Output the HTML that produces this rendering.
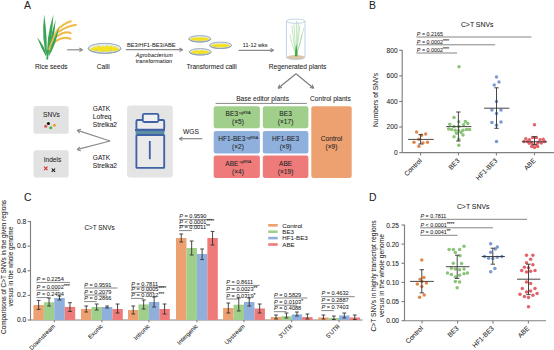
<!DOCTYPE html>
<html><head><meta charset="utf-8"><style>
html,body{margin:0;padding:0;background:#fff;}
svg{display:block;}
text{font-family:"Liberation Sans", sans-serif;stroke:#333;stroke-width:0.06px;}
</style></head><body>
<svg width="554" height="350" viewBox="0 0 554 350">
<rect width="554" height="350" fill="#fff"/>
<text x="24.0" y="9.3" font-size="10.4" text-anchor="start" fill="#222" >A</text>
<path d="M46.60,59.20 Q46.50,47.46 37.00,37.20 Q41.73,49.54 47.50,59.20 Z" fill="#3aa053"/>
<path d="M46.40,59.20 Q47.81,39.01 44.20,14.60 Q41.02,39.35 47.30,59.20 Z" fill="#3aa556"/>
<path d="M46.80,59.20 Q52.34,39.51 53.40,14.60 Q45.62,38.52 47.70,59.20 Z" fill="#3aa556"/>
<path d="M47.00,59.20 Q54.39,42.24 55.60,19.80 Q48.92,41.04 47.90,59.20 Z" fill="#36a052"/>
<g fill="none" stroke="#f0b844" stroke-width="1.45" stroke-linejoin="round" stroke-linecap="round">
<path d="M48.20,53.00 L48.98,51.92 L48.46,50.49 L49.67,49.60 L49.16,48.21 L50.36,47.39 L49.86,46.03 L51.07,45.27 L50.58,43.95 L51.78,43.26 L51.30,41.97 L52.50,41.35 L52.03,40.10 L53.22,39.54 L52.76,38.32 L53.95,37.84 L53.51,36.65 L54.69,36.24 L54.26,35.08 L55.44,34.74 L55.02,33.60 L56.19,33.35 L55.79,32.23 L56.94,32.05 L56.56,30.96 L57.70,30.87 L57.35,29.79 L58.47,29.78 L58.50,29.00"/>
<path d="M57.50,29.50 L58.45,29.24 L58.51,27.99 L59.75,28.13 L59.85,26.89 L61.07,27.08 L61.20,25.85 L62.40,26.10 L62.56,24.89 L63.74,25.19 L63.94,23.99 L65.09,24.35 L65.33,23.17 L66.46,23.58 L66.74,22.41 L67.84,22.87 L68.16,21.73 L69.23,22.24 L69.60,21.12 L70.64,21.68 L71.20,21.00"/>
<path d="M58.50,32.00 L59.46,31.88 L59.68,30.66 L60.88,30.96 L61.12,29.75 L62.30,30.10 L62.58,28.91 L63.73,29.31 L64.04,28.13 L65.17,28.58 L65.52,27.42 L66.62,27.92 L67.01,26.78 L68.07,27.33 L68.50,26.21 L69.54,26.80 L70.01,25.70 L71.02,26.34 L71.53,25.27 L72.50,25.95 L73.06,24.89 L74.00,25.62 L74.59,24.59 L75.50,25.35 L76.20,24.80"/>
<path d="M57.00,36.50 L58.05,36.29 L58.33,35.01 L59.59,35.28 L59.90,34.06 L61.08,34.44 L61.43,33.27 L62.52,33.78 L62.93,32.67 L63.92,33.29 L64.40,32.24 L65.27,32.97 L65.83,31.98 L66.58,32.83 L67.23,31.91 L67.84,32.84 L68.59,32.02 L69.06,33.03 L69.91,32.32 L70.24,33.37 L71.00,33.20"/>
<path d="M54.00,42.50 L55.08,42.25 L55.38,40.94 L56.68,41.17 L57.01,39.91 L58.25,40.26 L58.64,39.06 L59.80,39.52 L60.26,38.38 L61.33,38.96 L61.86,37.87 L62.84,38.57 L63.45,37.54 L64.33,38.34 L65.03,37.39 L65.80,38.29 L66.60,37.42 L67.25,38.40 L68.14,37.63 L68.69,38.68 L69.67,38.02 L70.11,39.12 L71.00,39.00"/>
</g>
<path d="M47.20,59.20 Q55.78,46.19 59.20,27.60 Q50.54,44.20 48.10,59.20 Z" fill="#3aa556"/>
<path d="M45.6,50 L49.6,50 L47.4,59.4 Z" fill="#3aa556"/>
<text x="51.3" y="68.6" font-size="6.6" text-anchor="middle" fill="#222" >Rice seeds</text>
<line x1="67.2" y1="49.8" x2="82.5" y2="49.8" stroke="#8a8a8a" stroke-width="1.2"/>
<line x1="79.34" y1="48.07" x2="82.5" y2="49.8" stroke="#8a8a8a" stroke-width="1.2"/>
<line x1="79.34" y1="51.53" x2="82.5" y2="49.8" stroke="#8a8a8a" stroke-width="1.2"/>
<ellipse cx="104.6" cy="48.3" rx="16.4" ry="5.0" fill="#e6e9ec"/>
<ellipse cx="104.6" cy="49.20" rx="14.10" ry="2.50" fill="#f3e31e"/>
<ellipse cx="94.60" cy="47.70" rx="1.60" ry="1.28" fill="#f3e31e"/>
<ellipse cx="98.60" cy="46.90" rx="1.80" ry="1.44" fill="#f3e31e"/>
<ellipse cx="103.10" cy="47.50" rx="1.70" ry="1.36" fill="#f3e31e"/>
<ellipse cx="107.10" cy="46.50" rx="1.60" ry="1.28" fill="#f3e31e"/>
<ellipse cx="111.10" cy="47.30" rx="1.80" ry="1.44" fill="#f3e31e"/>
<ellipse cx="115.10" cy="47.80" rx="1.50" ry="1.20" fill="#f3e31e"/>
<ellipse cx="91.60" cy="48.70" rx="1.00" ry="0.80" fill="#f3e31e"/>
<ellipse cx="117.60" cy="48.90" rx="1.00" ry="0.80" fill="#f3e31e"/>
<ellipse cx="96.60" cy="50.50" rx="1.40" ry="0.70" fill="#c9c6a0"/>
<ellipse cx="103.60" cy="51.10" rx="1.40" ry="0.70" fill="#c9c6a0"/>
<ellipse cx="110.60" cy="50.70" rx="1.40" ry="0.70" fill="#c9c6a0"/>
<path d="M88.19999999999999,48.3 A16.4,5.0 0 0 0 121.0,48.3" fill="none" stroke="#8e9aa6" stroke-width="0.9"/>
<ellipse cx="104.6" cy="48.3" rx="16.4" ry="5.0" fill="none" stroke="#86a2bc" stroke-width="0.85"/>
<text x="103.2" y="68.6" font-size="6.6" text-anchor="middle" fill="#222" >Calli</text>
<line x1="126" y1="49.7" x2="182.6" y2="49.7" stroke="#8a8a8a" stroke-width="1.2"/>
<line x1="179.44" y1="47.97" x2="182.6" y2="49.7" stroke="#8a8a8a" stroke-width="1.2"/>
<line x1="179.44" y1="51.43" x2="182.6" y2="49.7" stroke="#8a8a8a" stroke-width="1.2"/>
<text x="151.3" y="46.7" font-size="5.7" text-anchor="middle" fill="#222" >BE3/HF1-BE3/ABE</text>
<text x="154.3" y="56.6" font-size="5.4" text-anchor="middle" fill="#222" font-style="italic" letter-spacing="0.15">Agrobacterium</text>
<text x="154.0" y="62.8" font-size="5.5" text-anchor="middle" fill="#222" letter-spacing="0.1">transformation</text>
<ellipse cx="199.8" cy="38.8" rx="11.0" ry="3.2" fill="#e6e9ec"/>
<ellipse cx="199.8" cy="39.38" rx="9.46" ry="1.60" fill="#f3e31e"/>
<ellipse cx="193.09" cy="38.42" rx="1.07" ry="0.82" fill="#f3e31e"/>
<ellipse cx="195.78" cy="37.90" rx="1.21" ry="0.92" fill="#f3e31e"/>
<ellipse cx="198.79" cy="38.29" rx="1.14" ry="0.87" fill="#f3e31e"/>
<ellipse cx="201.48" cy="37.65" rx="1.07" ry="0.82" fill="#f3e31e"/>
<ellipse cx="204.16" cy="38.16" rx="1.21" ry="0.92" fill="#f3e31e"/>
<ellipse cx="206.84" cy="38.48" rx="1.01" ry="0.77" fill="#f3e31e"/>
<ellipse cx="191.08" cy="39.06" rx="0.67" ry="0.51" fill="#f3e31e"/>
<ellipse cx="208.52" cy="39.18" rx="0.67" ry="0.51" fill="#f3e31e"/>
<ellipse cx="194.43" cy="40.21" rx="0.94" ry="0.45" fill="#c9c6a0"/>
<ellipse cx="199.13" cy="40.59" rx="0.94" ry="0.45" fill="#c9c6a0"/>
<ellipse cx="203.82" cy="40.34" rx="0.94" ry="0.45" fill="#c9c6a0"/>
<path d="M188.8,38.8 A11.0,3.2 0 0 0 210.8,38.8" fill="none" stroke="#8e9aa6" stroke-width="0.9"/>
<ellipse cx="199.8" cy="38.8" rx="11.0" ry="3.2" fill="none" stroke="#86a2bc" stroke-width="0.85"/>
<ellipse cx="220.6" cy="45.3" rx="11.0" ry="3.2" fill="#e6e9ec"/>
<ellipse cx="220.6" cy="45.88" rx="9.46" ry="1.60" fill="#f3e31e"/>
<ellipse cx="213.89" cy="44.92" rx="1.07" ry="0.82" fill="#f3e31e"/>
<ellipse cx="216.58" cy="44.40" rx="1.21" ry="0.92" fill="#f3e31e"/>
<ellipse cx="219.59" cy="44.79" rx="1.14" ry="0.87" fill="#f3e31e"/>
<ellipse cx="222.28" cy="44.15" rx="1.07" ry="0.82" fill="#f3e31e"/>
<ellipse cx="224.96" cy="44.66" rx="1.21" ry="0.92" fill="#f3e31e"/>
<ellipse cx="227.64" cy="44.98" rx="1.01" ry="0.77" fill="#f3e31e"/>
<ellipse cx="211.88" cy="45.56" rx="0.67" ry="0.51" fill="#f3e31e"/>
<ellipse cx="229.32" cy="45.68" rx="0.67" ry="0.51" fill="#f3e31e"/>
<ellipse cx="215.23" cy="46.71" rx="0.94" ry="0.45" fill="#c9c6a0"/>
<ellipse cx="219.93" cy="47.09" rx="0.94" ry="0.45" fill="#c9c6a0"/>
<ellipse cx="224.62" cy="46.84" rx="0.94" ry="0.45" fill="#c9c6a0"/>
<path d="M209.6,45.3 A11.0,3.2 0 0 0 231.6,45.3" fill="none" stroke="#8e9aa6" stroke-width="0.9"/>
<ellipse cx="220.6" cy="45.3" rx="11.0" ry="3.2" fill="none" stroke="#86a2bc" stroke-width="0.85"/>
<ellipse cx="200.2" cy="51.8" rx="11.0" ry="3.2" fill="#e6e9ec"/>
<ellipse cx="200.2" cy="52.38" rx="9.46" ry="1.60" fill="#f3e31e"/>
<ellipse cx="193.49" cy="51.42" rx="1.07" ry="0.82" fill="#f3e31e"/>
<ellipse cx="196.18" cy="50.90" rx="1.21" ry="0.92" fill="#f3e31e"/>
<ellipse cx="199.19" cy="51.29" rx="1.14" ry="0.87" fill="#f3e31e"/>
<ellipse cx="201.88" cy="50.65" rx="1.07" ry="0.82" fill="#f3e31e"/>
<ellipse cx="204.56" cy="51.16" rx="1.21" ry="0.92" fill="#f3e31e"/>
<ellipse cx="207.24" cy="51.48" rx="1.01" ry="0.77" fill="#f3e31e"/>
<ellipse cx="191.48" cy="52.06" rx="0.67" ry="0.51" fill="#f3e31e"/>
<ellipse cx="208.92" cy="52.18" rx="0.67" ry="0.51" fill="#f3e31e"/>
<ellipse cx="194.83" cy="53.21" rx="0.94" ry="0.45" fill="#c9c6a0"/>
<ellipse cx="199.53" cy="53.59" rx="0.94" ry="0.45" fill="#c9c6a0"/>
<ellipse cx="204.22" cy="53.34" rx="0.94" ry="0.45" fill="#c9c6a0"/>
<path d="M189.2,51.8 A11.0,3.2 0 0 0 211.2,51.8" fill="none" stroke="#8e9aa6" stroke-width="0.9"/>
<ellipse cx="200.2" cy="51.8" rx="11.0" ry="3.2" fill="none" stroke="#86a2bc" stroke-width="0.85"/>
<text x="211.6" y="68.6" font-size="6.6" text-anchor="middle" fill="#222" >Transformed calli</text>
<line x1="238.6" y1="50.3" x2="273.6" y2="50.3" stroke="#8a8a8a" stroke-width="1.2"/>
<line x1="270.44" y1="48.57" x2="273.6" y2="50.3" stroke="#8a8a8a" stroke-width="1.2"/>
<line x1="270.44" y1="52.03" x2="273.6" y2="50.3" stroke="#8a8a8a" stroke-width="1.2"/>
<text x="255.2" y="46.9" font-size="5.5" text-anchor="middle" fill="#222" >11-12 wks</text>
<ellipse cx="295.8" cy="57.2" rx="9.2" ry="2.2" fill="#dcc6a6"/>
<g fill="none" stroke="#8ccc88" stroke-width="0.5" stroke-linecap="round"><path d="M296.1,55.5 Q293,40 291.9,25.9"/><path d="M296.1,55.5 Q296.5,38 296.5,21.3"/><path d="M296.1,55.5 Q298.5,40 299.8,25.9"/><path d="M296.1,55.5 Q301,42 303.7,28.5"/><path d="M296.1,55.5 Q292,45 289.9,35"/><path d="M296.1,55.5 Q300,45 301.8,35"/><path d="M296.1,55.5 Q294.5,40 294,24"/><path d="M296.1,55.5 Q298,38 298.5,23"/></g>
<path d="M294.8,56.2 Q295.2,50 296.3,44 Q297.4,50 297.6,56.2 Z" fill="#3ea846"/>
<path d="M286.4,21.2 L286.4,57.2 A9.3,2.3 0 0 0 305.0,57.2 L305.0,21.2" fill="none" stroke="#a9c2dc" stroke-width="0.7"/>
<ellipse cx="295.7" cy="21.2" rx="9.3" ry="2.1" fill="none" stroke="#a9c2dc" stroke-width="0.7"/>
<text x="297.6" y="68.6" font-size="6.6" text-anchor="middle" fill="#222" >Regenerated plants</text>
<line x1="296" y1="73.8" x2="278.2" y2="88.2" stroke="#7a7a7a" stroke-width="1.1"/>
<line x1="281.94" y1="87.52" x2="278.2" y2="88.2" stroke="#7a7a7a" stroke-width="1.1"/>
<line x1="279.65" y1="84.69" x2="278.2" y2="88.2" stroke="#7a7a7a" stroke-width="1.1"/>
<line x1="296" y1="73.8" x2="313.6" y2="88.2" stroke="#7a7a7a" stroke-width="1.1"/>
<line x1="312.17" y1="84.68" x2="313.6" y2="88.2" stroke="#7a7a7a" stroke-width="1.1"/>
<line x1="309.87" y1="87.5" x2="313.6" y2="88.2" stroke="#7a7a7a" stroke-width="1.1"/>
<text x="262.6" y="101.0" font-size="6.6" text-anchor="middle" fill="#222" >Base editor plants</text>
<line x1="215.6" y1="103.4" x2="306.8" y2="103.4" stroke="#555" stroke-width="0.7"/>
<text x="330.4" y="101.0" font-size="6.6" text-anchor="middle" fill="#222" >Control plants</text>
<rect x="213.7" y="106.3" width="46.2" height="22.0" rx="2.2" fill="#9fcf8a"/>
<rect x="262.8" y="106.3" width="45.6" height="22.0" rx="2.2" fill="#9fcf8a"/>
<text x="238.2" y="116.10" font-size="6.6" text-anchor="middle" fill="#222">BE3<tspan font-size="3.7" dy="-2.1"> sgRNA</tspan></text>
<text x="238.0" y="124.3" font-size="6.6" text-anchor="middle" fill="#222" >(×5)</text>
<text x="285.6" y="116.1" font-size="6.6" text-anchor="middle" fill="#222" >BE3</text>
<text x="285.6" y="124.3" font-size="6.6" text-anchor="middle" fill="#222" >(×17)</text>
<rect x="213.7" y="130.9" width="46.2" height="22.5" rx="2.2" fill="#8fb0dc"/>
<rect x="262.8" y="130.9" width="45.6" height="22.5" rx="2.2" fill="#8fb0dc"/>
<text x="238.2" y="140.95" font-size="6.6" text-anchor="middle" fill="#222">HF1-BE3<tspan font-size="3.7" dy="-2.1"> sgRNA</tspan></text>
<text x="238.0" y="149.15" font-size="6.6" text-anchor="middle" fill="#222" >(×2)</text>
<text x="285.6" y="140.95" font-size="6.6" text-anchor="middle" fill="#222" >HF1-BE3</text>
<text x="285.6" y="149.15" font-size="6.6" text-anchor="middle" fill="#222" >(×9)</text>
<rect x="213.7" y="155.5" width="46.2" height="22.5" rx="2.2" fill="#ee7b7a"/>
<rect x="262.8" y="155.5" width="45.6" height="22.5" rx="2.2" fill="#ee7b7a"/>
<text x="238.2" y="165.55" font-size="6.6" text-anchor="middle" fill="#222">ABE<tspan font-size="3.7" dy="-2.1"> sgRNA</tspan></text>
<text x="238.0" y="173.75" font-size="6.6" text-anchor="middle" fill="#222" >(×4)</text>
<text x="285.6" y="165.55" font-size="6.6" text-anchor="middle" fill="#222" >ABE</text>
<text x="285.6" y="173.75" font-size="6.6" text-anchor="middle" fill="#222" >(×19)</text>
<rect x="311.3" y="106.2" width="40.4" height="71.8" rx="2.2" fill="#eda070"/>
<text x="331.5" y="140.6" font-size="6.6" text-anchor="middle" fill="#222" >Control</text>
<text x="331.5" y="148.8" font-size="6.6" text-anchor="middle" fill="#222" >(×9)</text>
<text x="191" y="133.9" font-size="6.6" text-anchor="middle" fill="#222" >WGS</text>
<line x1="202.4" y1="138.7" x2="179.3" y2="138.7" stroke="#8a8a8a" stroke-width="1.2"/>
<line x1="182.46" y1="140.43" x2="179.3" y2="138.7" stroke="#8a8a8a" stroke-width="1.2"/>
<line x1="182.46" y1="136.97" x2="179.3" y2="138.7" stroke="#8a8a8a" stroke-width="1.2"/>
<rect x="127.1" y="105.4" width="45.7" height="72.1" rx="3.2" fill="#e4e4e4"/>
<rect x="135.0" y="129.0" width="30.0" height="2.2" fill="#3f62a6"/>
<rect x="135.6" y="130.8" width="28.8" height="3.4" fill="#5e8ea2"/>
<g fill="none" stroke="#3f62a6" stroke-width="1.85"><rect x="136.4" y="120.0" width="27.8" height="9.6" rx="1.3" fill="#ececec"/><rect x="136.4" y="135.0" width="27.8" height="32.8" rx="0.6" fill="#eaeaea"/><rect x="142.8" y="113.8" width="15.6" height="8.2" rx="1.5" fill="#f1f1f1"/><line x1="149.8" y1="141.0" x2="149.8" y2="159.2"/></g>
<text x="92.8" y="111.0" font-size="6.6" text-anchor="start" fill="#222" >GATK</text>
<text x="92.8" y="118.8" font-size="6.6" text-anchor="start" fill="#222" >Lofreq</text>
<text x="92.8" y="126.6" font-size="6.6" text-anchor="start" fill="#222" >Strelka2</text>
<text x="92.8" y="159.8" font-size="6.6" text-anchor="start" fill="#222" >GATK</text>
<text x="92.8" y="167.6" font-size="6.6" text-anchor="start" fill="#222" >Strelka2</text>
<line x1="110" y1="141" x2="77.6" y2="130.4" stroke="#8a8a8a" stroke-width="1.15"/>
<line x1="110" y1="141" x2="77.6" y2="149.4" stroke="#8a8a8a" stroke-width="1.15"/>
<line x1="79.66" y1="133.1" x2="77.2" y2="130.2" stroke="#8a8a8a" stroke-width="1.15"/>
<line x1="80.9" y1="129.33" x2="77.2" y2="130.2" stroke="#8a8a8a" stroke-width="1.15"/>
<line x1="80.84" y1="150.7" x2="77.2" y2="149.6" stroke="#8a8a8a" stroke-width="1.15"/>
<line x1="79.83" y1="146.86" x2="77.2" y2="149.6" stroke="#8a8a8a" stroke-width="1.15"/>
<rect x="33.5" y="105.9" width="35.2" height="27.9" rx="2.5" fill="#e2e2e2"/>
<rect x="33.5" y="150.3" width="35.2" height="27.2" rx="2.5" fill="#e2e2e2"/>
<text x="51.5" y="116.6" font-size="6.6" text-anchor="middle" fill="#222" >SNVs</text>
<text x="52.5" y="161.6" font-size="6.6" text-anchor="middle" fill="#222" >Indels</text>
<circle cx="45.7" cy="126.2" r="1.55" fill="#d9534f"/>
<circle cx="48.4" cy="123.5" r="1.55" fill="#111"/>
<circle cx="50.8" cy="127.8" r="1.55" fill="#4caf50"/>
<circle cx="54.4" cy="125.2" r="1.55" fill="#f0a030"/>
<path d="M44.10,166.70 L47.50,170.10 M47.50,166.70 L44.10,170.10" stroke="#d03030" stroke-width="1.05"/>
<path d="M51.70,168.50 L55.10,171.90 M55.10,168.50 L51.70,171.90" stroke="#111" stroke-width="1.05"/>
<text x="369.1" y="9.4" font-size="10.4" text-anchor="start" fill="#222" >B</text>
<text x="477.2" y="27.2" font-size="6.9" text-anchor="middle" fill="#222" >C&gt;T SNVs</text>
<line x1="416.4" y1="37.0" x2="531.4" y2="37.0" stroke="#777" stroke-width="0.9"/>
<text x="416.79999999999995" y="36.00" font-size="5.4" fill="#222"><tspan font-style="italic">P</tspan> = 0.2165<tspan font-size="5.0" dy="-0.9"></tspan></text>
<line x1="416.4" y1="44.8" x2="495.2" y2="44.8" stroke="#777" stroke-width="0.9"/>
<text x="416.79999999999995" y="43.80" font-size="5.4" fill="#222"><tspan font-style="italic">P</tspan> = 0.0002<tspan font-size="5.0" dy="-0.9">***</tspan></text>
<line x1="416.4" y1="53.0" x2="457.0" y2="53.0" stroke="#777" stroke-width="0.9"/>
<text x="416.79999999999995" y="52.00" font-size="5.4" fill="#222"><tspan font-style="italic">P</tspan> = 0.0002<tspan font-size="5.0" dy="-0.9">***</tspan></text>
<line x1="402.2" y1="50.0" x2="402.2" y2="153.0" stroke="#808080" stroke-width="1.15"/>
<line x1="402.2" y1="152.6" x2="554" y2="152.6" stroke="#808080" stroke-width="1.15"/>
<line x1="399.2" y1="50.3" x2="402.2" y2="50.3" stroke="#808080" stroke-width="1.15"/>
<text x="397.6" y="52.6" font-size="6.6" text-anchor="end" fill="#222" >800</text>
<line x1="399.2" y1="75.88" x2="402.2" y2="75.88" stroke="#808080" stroke-width="1.15"/>
<text x="397.6" y="78.18" font-size="6.6" text-anchor="end" fill="#222" >600</text>
<line x1="399.2" y1="101.46" x2="402.2" y2="101.46" stroke="#808080" stroke-width="1.15"/>
<text x="397.6" y="103.76" font-size="6.6" text-anchor="end" fill="#222" >400</text>
<line x1="399.2" y1="127.04" x2="402.2" y2="127.04" stroke="#808080" stroke-width="1.15"/>
<text x="397.6" y="129.34" font-size="6.6" text-anchor="end" fill="#222" >200</text>
<line x1="399.2" y1="152.62" x2="402.2" y2="152.62" stroke="#808080" stroke-width="1.15"/>
<text x="397.6" y="154.92" font-size="6.6" text-anchor="end" fill="#222" >0</text>
<text transform="translate(377.6,100.0) rotate(-90)" font-size="6.76" text-anchor="middle" fill="#222">Numbers of SNVs</text>
<line x1="420.6" y1="152.6" x2="420.6" y2="155.4" stroke="#808080" stroke-width="1.1"/>
<text transform="translate(422.20000000000005,161.2) rotate(-45)" font-size="6.7" text-anchor="end" fill="#222">Control</text>
<line x1="458.5" y1="152.6" x2="458.5" y2="155.4" stroke="#808080" stroke-width="1.1"/>
<text transform="translate(460.1,161.2) rotate(-45)" font-size="6.7" text-anchor="end" fill="#222">BE3</text>
<line x1="496.4" y1="152.6" x2="496.4" y2="155.4" stroke="#808080" stroke-width="1.1"/>
<text transform="translate(498.0,161.2) rotate(-45)" font-size="6.7" text-anchor="end" fill="#222">HF1-BE3</text>
<line x1="534.5" y1="152.6" x2="534.5" y2="155.4" stroke="#808080" stroke-width="1.1"/>
<text transform="translate(536.1,161.2) rotate(-45)" font-size="6.7" text-anchor="end" fill="#222">ABE</text>
<circle cx="416.6" cy="132" r="1.75" fill="#e2874c"/>
<circle cx="425.7" cy="134" r="1.75" fill="#e2874c"/>
<circle cx="418.9" cy="139.2" r="1.75" fill="#e2874c"/>
<circle cx="414" cy="142.3" r="1.75" fill="#e2874c"/>
<circle cx="423" cy="143" r="1.75" fill="#e2874c"/>
<circle cx="427.5" cy="142.3" r="1.75" fill="#e2874c"/>
<circle cx="418.9" cy="146.3" r="1.75" fill="#e2874c"/>
<circle cx="421.5" cy="135.2" r="1.75" fill="#e2874c"/>
<line x1="420.6" y1="134.6" x2="420.6" y2="144.0" stroke="#333" stroke-width="0.9"/>
<line x1="418.40000000000003" y1="134.6" x2="422.8" y2="134.6" stroke="#333" stroke-width="0.9"/>
<line x1="418.40000000000003" y1="144.0" x2="422.8" y2="144.0" stroke="#333" stroke-width="0.9"/>
<line x1="408.2" y1="139.4" x2="433.7" y2="139.4" stroke="#333" stroke-width="0.9"/>
<circle cx="459" cy="66.8" r="1.75" fill="#8dc27a"/>
<circle cx="454" cy="117.6" r="1.75" fill="#8dc27a"/>
<circle cx="458.8" cy="121.8" r="1.75" fill="#8dc27a"/>
<circle cx="465.4" cy="121.4" r="1.75" fill="#8dc27a"/>
<circle cx="467.8" cy="123.4" r="1.75" fill="#8dc27a"/>
<circle cx="449.8" cy="124.2" r="1.75" fill="#8dc27a"/>
<circle cx="454" cy="126.6" r="1.75" fill="#8dc27a"/>
<circle cx="458.8" cy="126.6" r="1.75" fill="#8dc27a"/>
<circle cx="463.6" cy="124.8" r="1.75" fill="#8dc27a"/>
<circle cx="448.6" cy="129" r="1.75" fill="#8dc27a"/>
<circle cx="451.6" cy="129.6" r="1.75" fill="#8dc27a"/>
<circle cx="455.2" cy="130.2" r="1.75" fill="#8dc27a"/>
<circle cx="458.8" cy="130.8" r="1.75" fill="#8dc27a"/>
<circle cx="463" cy="130.2" r="1.75" fill="#8dc27a"/>
<circle cx="466.6" cy="129.6" r="1.75" fill="#8dc27a"/>
<circle cx="469.6" cy="129.4" r="1.75" fill="#8dc27a"/>
<circle cx="456.4" cy="133.2" r="1.75" fill="#8dc27a"/>
<circle cx="461.2" cy="132.6" r="1.75" fill="#8dc27a"/>
<circle cx="463" cy="135" r="1.75" fill="#8dc27a"/>
<circle cx="454" cy="136.8" r="1.75" fill="#8dc27a"/>
<circle cx="458.8" cy="139.2" r="1.75" fill="#8dc27a"/>
<circle cx="458.8" cy="145.2" r="1.75" fill="#8dc27a"/>
<line x1="458.4" y1="112.0" x2="458.4" y2="141.0" stroke="#333" stroke-width="0.9"/>
<line x1="456.2" y1="112.0" x2="460.59999999999997" y2="112.0" stroke="#333" stroke-width="0.9"/>
<line x1="456.2" y1="141.0" x2="460.59999999999997" y2="141.0" stroke="#333" stroke-width="0.9"/>
<line x1="446.2" y1="126.6" x2="471.4" y2="126.6" stroke="#333" stroke-width="0.9"/>
<circle cx="496.5" cy="76.9" r="1.75" fill="#7b9bd0"/>
<circle cx="499" cy="81.9" r="1.75" fill="#7b9bd0"/>
<circle cx="494.2" cy="85.1" r="1.75" fill="#7b9bd0"/>
<circle cx="496.5" cy="101.5" r="1.75" fill="#7b9bd0"/>
<circle cx="491.9" cy="110" r="1.75" fill="#7b9bd0"/>
<circle cx="501" cy="110" r="1.75" fill="#7b9bd0"/>
<circle cx="496.5" cy="113.4" r="1.75" fill="#7b9bd0"/>
<circle cx="491.9" cy="122.6" r="1.75" fill="#7b9bd0"/>
<circle cx="501" cy="122.1" r="1.75" fill="#7b9bd0"/>
<circle cx="496.5" cy="125.3" r="1.75" fill="#7b9bd0"/>
<circle cx="496.5" cy="141.5" r="1.75" fill="#7b9bd0"/>
<line x1="496.5" y1="87.8" x2="496.5" y2="128.3" stroke="#333" stroke-width="0.9"/>
<line x1="494.3" y1="87.8" x2="498.7" y2="87.8" stroke="#333" stroke-width="0.9"/>
<line x1="494.3" y1="128.3" x2="498.7" y2="128.3" stroke="#333" stroke-width="0.9"/>
<line x1="484.1" y1="108.2" x2="509.3" y2="108.2" stroke="#333" stroke-width="0.9"/>
<circle cx="534.5" cy="124.8" r="1.75" fill="#e2646a"/>
<circle cx="525.8" cy="138.7" r="1.75" fill="#e2646a"/>
<circle cx="543.1" cy="139.2" r="1.75" fill="#e2646a"/>
<circle cx="532.6" cy="137.4" r="1.75" fill="#e2646a"/>
<circle cx="536.3" cy="137.4" r="1.75" fill="#e2646a"/>
<circle cx="529.4" cy="139.7" r="1.75" fill="#e2646a"/>
<circle cx="540" cy="139.7" r="1.75" fill="#e2646a"/>
<circle cx="524" cy="141.5" r="1.75" fill="#e2646a"/>
<circle cx="527.6" cy="141.5" r="1.75" fill="#e2646a"/>
<circle cx="544.5" cy="141.5" r="1.75" fill="#e2646a"/>
<circle cx="531.7" cy="142.4" r="1.75" fill="#e2646a"/>
<circle cx="538.1" cy="142.4" r="1.75" fill="#e2646a"/>
<circle cx="529.4" cy="143.3" r="1.75" fill="#e2646a"/>
<circle cx="541.3" cy="142.9" r="1.75" fill="#e2646a"/>
<circle cx="532.6" cy="144.7" r="1.75" fill="#e2646a"/>
<circle cx="536.7" cy="144.7" r="1.75" fill="#e2646a"/>
<circle cx="531.7" cy="146.5" r="1.75" fill="#e2646a"/>
<circle cx="534.5" cy="147.4" r="1.75" fill="#e2646a"/>
<circle cx="537.7" cy="146.5" r="1.75" fill="#e2646a"/>
<line x1="534.5" y1="136.7" x2="534.5" y2="144.7" stroke="#333" stroke-width="0.9"/>
<line x1="532.3" y1="136.7" x2="536.7" y2="136.7" stroke="#333" stroke-width="0.9"/>
<line x1="532.3" y1="144.7" x2="536.7" y2="144.7" stroke="#333" stroke-width="0.9"/>
<line x1="522.1" y1="141.8" x2="547.1" y2="141.8" stroke="#333" stroke-width="0.9"/>
<text x="23.9" y="201.4" font-size="10.4" text-anchor="start" fill="#222" >C</text>
<line x1="30.5" y1="221.0" x2="30.5" y2="320.3" stroke="#808080" stroke-width="1.15"/>
<line x1="30.5" y1="320.0" x2="362.5" y2="320.0" stroke="#808080" stroke-width="1.15"/>
<line x1="27.6" y1="221.5" x2="30.5" y2="221.5" stroke="#808080" stroke-width="1.15"/>
<text x="26.2" y="223.5" font-size="6.6" text-anchor="end" fill="#222" >0.8</text>
<line x1="27.6" y1="246.13" x2="30.5" y2="246.13" stroke="#808080" stroke-width="1.15"/>
<text x="26.2" y="248.13" font-size="6.6" text-anchor="end" fill="#222" >0.6</text>
<line x1="27.6" y1="270.76" x2="30.5" y2="270.76" stroke="#808080" stroke-width="1.15"/>
<text x="26.2" y="272.76" font-size="6.6" text-anchor="end" fill="#222" >0.4</text>
<line x1="27.6" y1="295.39" x2="30.5" y2="295.39" stroke="#808080" stroke-width="1.15"/>
<text x="26.2" y="297.39" font-size="6.6" text-anchor="end" fill="#222" >0.2</text>
<line x1="27.6" y1="320.02" x2="30.5" y2="320.02" stroke="#808080" stroke-width="1.15"/>
<text x="26.2" y="322.02" font-size="6.6" text-anchor="end" fill="#222" >0.0</text>
<text transform="translate(6.3,267.0) rotate(-90)" font-size="6.4" text-anchor="middle" fill="#222">Comparisons of C&gt;T SNVs in the given regions</text>
<text transform="translate(13.2,266.6) rotate(-90)" font-size="6.4" text-anchor="middle" fill="#222">versus in the whole genome</text>
<text x="84.4" y="229.5" font-size="6.4" text-anchor="start" fill="#222" >C&gt;T SNVs</text>
<rect x="33.40" y="305.0" width="10.45" height="15.00" fill="#eda070"/>
<line x1="38.62" y1="300.4" x2="38.62" y2="309.4" stroke="#333" stroke-width="0.9"/>
<line x1="36.73" y1="300.4" x2="40.52" y2="300.4" stroke="#333" stroke-width="0.9"/>
<line x1="36.73" y1="309.4" x2="40.52" y2="309.4" stroke="#333" stroke-width="0.9"/>
<rect x="43.85" y="302.3" width="10.45" height="17.70" fill="#9fcf8a"/>
<line x1="49.07" y1="298" x2="49.07" y2="306" stroke="#333" stroke-width="0.9"/>
<line x1="47.17" y1="298" x2="50.97" y2="298" stroke="#333" stroke-width="0.9"/>
<line x1="47.17" y1="306" x2="50.97" y2="306" stroke="#333" stroke-width="0.9"/>
<rect x="54.30" y="298.0" width="10.45" height="22.00" fill="#8fb0dc"/>
<line x1="59.52" y1="296" x2="59.52" y2="300" stroke="#333" stroke-width="0.9"/>
<line x1="57.62" y1="296" x2="61.42" y2="296" stroke="#333" stroke-width="0.9"/>
<line x1="57.62" y1="300" x2="61.42" y2="300" stroke="#333" stroke-width="0.9"/>
<rect x="64.75" y="306.9" width="10.45" height="13.10" fill="#ee7b7a"/>
<line x1="69.97" y1="302.7" x2="69.97" y2="311.5" stroke="#333" stroke-width="0.9"/>
<line x1="68.07" y1="302.7" x2="71.88" y2="302.7" stroke="#333" stroke-width="0.9"/>
<line x1="68.07" y1="311.5" x2="71.88" y2="311.5" stroke="#333" stroke-width="0.9"/>
<line x1="54.3" y1="320.0" x2="54.3" y2="322.3" stroke="#808080" stroke-width="1.1"/>
<text transform="translate(55.60,326.6) rotate(-45)" font-size="6.0" text-anchor="end" fill="#222">Downstream</text>
<line x1="36.4" y1="282.4" x2="69.97" y2="282.4" stroke="#555" stroke-width="0.7"/>
<text x="36.60" y="280.90" font-size="5.6" fill="#222"><tspan font-style="italic">P</tspan> = 0.2254<tspan font-size="5.0" dy="-0.9"></tspan></text>
<line x1="36.4" y1="290.2" x2="59.52" y2="290.2" stroke="#555" stroke-width="0.7"/>
<text x="36.60" y="288.70" font-size="5.6" fill="#222"><tspan font-style="italic">P</tspan> = 0.0002<tspan font-size="5.0" dy="-0.9">***</tspan></text>
<line x1="36.4" y1="297.6" x2="49.07" y2="297.6" stroke="#555" stroke-width="0.7"/>
<text x="36.60" y="296.10" font-size="5.6" fill="#222"><tspan font-style="italic">P</tspan> = 0.2494<tspan font-size="5.0" dy="-0.9"></tspan></text>
<rect x="81.00" y="309.0" width="10.45" height="11.00" fill="#eda070"/>
<line x1="86.22" y1="306" x2="86.22" y2="312" stroke="#333" stroke-width="0.9"/>
<line x1="84.32" y1="306" x2="88.12" y2="306" stroke="#333" stroke-width="0.9"/>
<line x1="84.32" y1="312" x2="88.12" y2="312" stroke="#333" stroke-width="0.9"/>
<rect x="91.45" y="307.0" width="10.45" height="13.00" fill="#9fcf8a"/>
<line x1="96.67" y1="304" x2="96.67" y2="310" stroke="#333" stroke-width="0.9"/>
<line x1="94.77" y1="304" x2="98.58" y2="304" stroke="#333" stroke-width="0.9"/>
<line x1="94.77" y1="310" x2="98.58" y2="310" stroke="#333" stroke-width="0.9"/>
<rect x="101.90" y="307.0" width="10.45" height="13.00" fill="#8fb0dc"/>
<line x1="107.12" y1="306" x2="107.12" y2="308" stroke="#333" stroke-width="0.9"/>
<line x1="105.22" y1="306" x2="109.03" y2="306" stroke="#333" stroke-width="0.9"/>
<line x1="105.22" y1="308" x2="109.03" y2="308" stroke="#333" stroke-width="0.9"/>
<rect x="112.35" y="309.0" width="10.45" height="11.00" fill="#ee7b7a"/>
<line x1="117.57" y1="304" x2="117.57" y2="313" stroke="#333" stroke-width="0.9"/>
<line x1="115.67" y1="304" x2="119.47" y2="304" stroke="#333" stroke-width="0.9"/>
<line x1="115.67" y1="313" x2="119.47" y2="313" stroke="#333" stroke-width="0.9"/>
<line x1="101.9" y1="320.0" x2="101.9" y2="322.3" stroke="#808080" stroke-width="1.1"/>
<text transform="translate(103.20,326.6) rotate(-45)" font-size="6.0" text-anchor="end" fill="#222">Exonic</text>
<line x1="84.0" y1="288.0" x2="117.57" y2="288.0" stroke="#555" stroke-width="0.7"/>
<text x="84.20" y="286.50" font-size="5.6" fill="#222"><tspan font-style="italic">P</tspan> = 0.9591<tspan font-size="5.0" dy="-0.9"></tspan></text>
<line x1="84.0" y1="295.0" x2="107.12" y2="295.0" stroke="#555" stroke-width="0.7"/>
<text x="84.20" y="293.50" font-size="5.6" fill="#222"><tspan font-style="italic">P</tspan> = 0.2079<tspan font-size="5.0" dy="-0.9"></tspan></text>
<line x1="84.0" y1="301.6" x2="96.67" y2="301.6" stroke="#555" stroke-width="0.7"/>
<text x="84.20" y="300.10" font-size="5.6" fill="#222"><tspan font-style="italic">P</tspan> = 0.2866<tspan font-size="5.0" dy="-0.9"></tspan></text>
<rect x="128.00" y="310.0" width="10.45" height="10.00" fill="#eda070"/>
<line x1="133.22" y1="306" x2="133.22" y2="314" stroke="#333" stroke-width="0.9"/>
<line x1="131.32" y1="306" x2="135.12" y2="306" stroke="#333" stroke-width="0.9"/>
<line x1="131.32" y1="314" x2="135.12" y2="314" stroke="#333" stroke-width="0.9"/>
<rect x="138.45" y="304.4" width="10.45" height="15.60" fill="#9fcf8a"/>
<line x1="143.67" y1="300" x2="143.67" y2="309" stroke="#333" stroke-width="0.9"/>
<line x1="141.77" y1="300" x2="145.57" y2="300" stroke="#333" stroke-width="0.9"/>
<line x1="141.77" y1="309" x2="145.57" y2="309" stroke="#333" stroke-width="0.9"/>
<rect x="148.90" y="302.0" width="10.45" height="18.00" fill="#8fb0dc"/>
<line x1="154.12" y1="297" x2="154.12" y2="307" stroke="#333" stroke-width="0.9"/>
<line x1="152.22" y1="297" x2="156.03" y2="297" stroke="#333" stroke-width="0.9"/>
<line x1="152.22" y1="307" x2="156.03" y2="307" stroke="#333" stroke-width="0.9"/>
<rect x="159.35" y="309.0" width="10.45" height="11.00" fill="#ee7b7a"/>
<line x1="164.57" y1="304" x2="164.57" y2="314" stroke="#333" stroke-width="0.9"/>
<line x1="162.67" y1="304" x2="166.47" y2="304" stroke="#333" stroke-width="0.9"/>
<line x1="162.67" y1="314" x2="166.47" y2="314" stroke="#333" stroke-width="0.9"/>
<line x1="148.9" y1="320.0" x2="148.9" y2="322.3" stroke="#808080" stroke-width="1.1"/>
<text transform="translate(150.20,326.6) rotate(-45)" font-size="6.0" text-anchor="end" fill="#222">Intronic</text>
<line x1="131.0" y1="287.0" x2="164.57" y2="287.0" stroke="#555" stroke-width="0.7"/>
<text x="131.20" y="285.50" font-size="5.6" fill="#222"><tspan font-style="italic">P</tspan> = 0.7811<tspan font-size="5.0" dy="-0.9"></tspan></text>
<line x1="131.0" y1="292.4" x2="154.12" y2="292.4" stroke="#555" stroke-width="0.7"/>
<text x="131.20" y="290.90" font-size="5.6" fill="#222"><tspan font-style="italic">P</tspan> = 0.0005<tspan font-size="5.0" dy="-0.9">****</tspan></text>
<line x1="131.0" y1="298.4" x2="143.68" y2="298.4" stroke="#555" stroke-width="0.7"/>
<text x="131.20" y="296.90" font-size="5.6" fill="#222"><tspan font-style="italic">P</tspan> = 0.0012<tspan font-size="5.0" dy="-0.9">***</tspan></text>
<rect x="176.00" y="238.0" width="10.45" height="82.00" fill="#eda070"/>
<line x1="181.22" y1="234" x2="181.22" y2="242" stroke="#333" stroke-width="0.9"/>
<line x1="179.32" y1="234" x2="183.12" y2="234" stroke="#333" stroke-width="0.9"/>
<line x1="179.32" y1="242" x2="183.12" y2="242" stroke="#333" stroke-width="0.9"/>
<rect x="186.45" y="248.0" width="10.45" height="72.00" fill="#9fcf8a"/>
<line x1="191.67" y1="241" x2="191.67" y2="255" stroke="#333" stroke-width="0.9"/>
<line x1="189.77" y1="241" x2="193.57" y2="241" stroke="#333" stroke-width="0.9"/>
<line x1="189.77" y1="255" x2="193.57" y2="255" stroke="#333" stroke-width="0.9"/>
<rect x="196.90" y="254.0" width="10.45" height="66.00" fill="#8fb0dc"/>
<line x1="202.12" y1="249" x2="202.12" y2="259.6" stroke="#333" stroke-width="0.9"/>
<line x1="200.22" y1="249" x2="204.03" y2="249" stroke="#333" stroke-width="0.9"/>
<line x1="200.22" y1="259.6" x2="204.03" y2="259.6" stroke="#333" stroke-width="0.9"/>
<rect x="207.35" y="238.0" width="10.45" height="82.00" fill="#ee7b7a"/>
<line x1="212.57" y1="231.4" x2="212.57" y2="245" stroke="#333" stroke-width="0.9"/>
<line x1="210.67" y1="231.4" x2="214.47" y2="231.4" stroke="#333" stroke-width="0.9"/>
<line x1="210.67" y1="245" x2="214.47" y2="245" stroke="#333" stroke-width="0.9"/>
<line x1="196.9" y1="320.0" x2="196.9" y2="322.3" stroke="#808080" stroke-width="1.1"/>
<text transform="translate(198.20,326.6) rotate(-45)" font-size="6.0" text-anchor="end" fill="#222">Intergenic</text>
<line x1="179.0" y1="219.4" x2="212.57" y2="219.4" stroke="#555" stroke-width="0.7"/>
<text x="179.20" y="217.90" font-size="5.6" fill="#222"><tspan font-style="italic">P</tspan> = 0.9590<tspan font-size="5.0" dy="-0.9"></tspan></text>
<line x1="179.0" y1="225.6" x2="202.12" y2="225.6" stroke="#555" stroke-width="0.7"/>
<text x="179.20" y="224.10" font-size="5.6" fill="#222"><tspan font-style="italic">P</tspan> &lt; 0.0001<tspan font-size="5.0" dy="-0.9">****</tspan></text>
<line x1="179.0" y1="230.6" x2="191.68" y2="230.6" stroke="#555" stroke-width="0.7"/>
<text x="179.20" y="229.10" font-size="5.6" fill="#222"><tspan font-style="italic">P</tspan> = 0.0011<tspan font-size="5.0" dy="-0.9">**</tspan></text>
<rect x="223.10" y="308.0" width="10.45" height="12.00" fill="#eda070"/>
<line x1="228.32" y1="303" x2="228.32" y2="313" stroke="#333" stroke-width="0.9"/>
<line x1="226.42" y1="303" x2="230.22" y2="303" stroke="#333" stroke-width="0.9"/>
<line x1="226.42" y1="313" x2="230.22" y2="313" stroke="#333" stroke-width="0.9"/>
<rect x="233.55" y="304.7" width="10.45" height="15.30" fill="#9fcf8a"/>
<line x1="238.77" y1="298" x2="238.77" y2="311" stroke="#333" stroke-width="0.9"/>
<line x1="236.87" y1="298" x2="240.67" y2="298" stroke="#333" stroke-width="0.9"/>
<line x1="236.87" y1="311" x2="240.67" y2="311" stroke="#333" stroke-width="0.9"/>
<rect x="244.00" y="302.0" width="10.45" height="18.00" fill="#8fb0dc"/>
<line x1="249.22" y1="298" x2="249.22" y2="306" stroke="#333" stroke-width="0.9"/>
<line x1="247.32" y1="298" x2="251.12" y2="298" stroke="#333" stroke-width="0.9"/>
<line x1="247.32" y1="306" x2="251.12" y2="306" stroke="#333" stroke-width="0.9"/>
<rect x="254.45" y="308.5" width="10.45" height="11.50" fill="#ee7b7a"/>
<line x1="259.68" y1="304" x2="259.68" y2="313" stroke="#333" stroke-width="0.9"/>
<line x1="257.78" y1="304" x2="261.57" y2="304" stroke="#333" stroke-width="0.9"/>
<line x1="257.78" y1="313" x2="261.57" y2="313" stroke="#333" stroke-width="0.9"/>
<line x1="244.0" y1="320.0" x2="244.0" y2="322.3" stroke="#808080" stroke-width="1.1"/>
<text transform="translate(245.30,326.6) rotate(-45)" font-size="6.0" text-anchor="end" fill="#222">Upstream</text>
<line x1="226.1" y1="285.4" x2="259.68" y2="285.4" stroke="#555" stroke-width="0.7"/>
<text x="226.30" y="283.90" font-size="5.6" fill="#222"><tspan font-style="italic">P</tspan> = 0.8611<tspan font-size="5.0" dy="-0.9"></tspan></text>
<line x1="226.1" y1="292.5" x2="249.22" y2="292.5" stroke="#555" stroke-width="0.7"/>
<text x="226.30" y="291.00" font-size="5.6" fill="#222"><tspan font-style="italic">P</tspan> = 0.0023<tspan font-size="5.0" dy="-0.9">**</tspan></text>
<line x1="226.1" y1="299.0" x2="238.78" y2="299.0" stroke="#555" stroke-width="0.7"/>
<text x="226.30" y="297.50" font-size="5.6" fill="#222"><tspan font-style="italic">P</tspan> = 0.0319<tspan font-size="5.0" dy="-0.9">*</tspan></text>
<rect x="270.80" y="317.0" width="10.45" height="3.00" fill="#eda070"/>
<line x1="276.03" y1="315" x2="276.03" y2="319" stroke="#333" stroke-width="0.9"/>
<line x1="274.13" y1="315" x2="277.93" y2="315" stroke="#333" stroke-width="0.9"/>
<line x1="274.13" y1="319" x2="277.93" y2="319" stroke="#333" stroke-width="0.9"/>
<rect x="281.25" y="316.2" width="10.45" height="3.80" fill="#9fcf8a"/>
<line x1="286.48" y1="313" x2="286.48" y2="318" stroke="#333" stroke-width="0.9"/>
<line x1="284.58" y1="313" x2="288.38" y2="313" stroke="#333" stroke-width="0.9"/>
<line x1="284.58" y1="318" x2="288.38" y2="318" stroke="#333" stroke-width="0.9"/>
<rect x="291.70" y="314.4" width="10.45" height="5.60" fill="#8fb0dc"/>
<line x1="296.93" y1="312" x2="296.93" y2="316" stroke="#333" stroke-width="0.9"/>
<line x1="295.03" y1="312" x2="298.82" y2="312" stroke="#333" stroke-width="0.9"/>
<line x1="295.03" y1="316" x2="298.82" y2="316" stroke="#333" stroke-width="0.9"/>
<rect x="302.15" y="317.1" width="10.45" height="2.90" fill="#ee7b7a"/>
<line x1="307.38" y1="314" x2="307.38" y2="319" stroke="#333" stroke-width="0.9"/>
<line x1="305.48" y1="314" x2="309.28" y2="314" stroke="#333" stroke-width="0.9"/>
<line x1="305.48" y1="319" x2="309.28" y2="319" stroke="#333" stroke-width="0.9"/>
<line x1="291.7" y1="320.0" x2="291.7" y2="322.3" stroke="#808080" stroke-width="1.1"/>
<text transform="translate(293.00,326.6) rotate(-45)" font-size="6.0" text-anchor="end" fill="#222">3'UTR</text>
<line x1="273.8" y1="298.0" x2="307.38" y2="298.0" stroke="#555" stroke-width="0.7"/>
<text x="274.00" y="296.50" font-size="5.6" fill="#222"><tspan font-style="italic">P</tspan> = 0.5829<tspan font-size="5.0" dy="-0.9"></tspan></text>
<line x1="273.8" y1="305.2" x2="296.93" y2="305.2" stroke="#555" stroke-width="0.7"/>
<text x="274.00" y="303.70" font-size="5.6" fill="#222"><tspan font-style="italic">P</tspan> = 0.0103<tspan font-size="5.0" dy="-0.9">*</tspan></text>
<line x1="273.8" y1="311.7" x2="286.48" y2="311.7" stroke="#555" stroke-width="0.7"/>
<text x="274.00" y="310.20" font-size="5.6" fill="#222"><tspan font-style="italic">P</tspan> = 0.4088<tspan font-size="5.0" dy="-0.9"></tspan></text>
<rect x="318.20" y="317.5" width="10.45" height="2.50" fill="#eda070"/>
<line x1="323.43" y1="315" x2="323.43" y2="319" stroke="#333" stroke-width="0.9"/>
<line x1="321.53" y1="315" x2="325.32" y2="315" stroke="#333" stroke-width="0.9"/>
<line x1="321.53" y1="319" x2="325.32" y2="319" stroke="#333" stroke-width="0.9"/>
<rect x="328.65" y="318.0" width="10.45" height="2.00" fill="#9fcf8a"/>
<line x1="333.88" y1="316" x2="333.88" y2="319.5" stroke="#333" stroke-width="0.9"/>
<line x1="331.98" y1="316" x2="335.77" y2="316" stroke="#333" stroke-width="0.9"/>
<line x1="331.98" y1="319.5" x2="335.77" y2="319.5" stroke="#333" stroke-width="0.9"/>
<rect x="339.10" y="315.5" width="10.45" height="4.50" fill="#8fb0dc"/>
<line x1="344.32" y1="313" x2="344.32" y2="318" stroke="#333" stroke-width="0.9"/>
<line x1="342.43" y1="313" x2="346.22" y2="313" stroke="#333" stroke-width="0.9"/>
<line x1="342.43" y1="318" x2="346.22" y2="318" stroke="#333" stroke-width="0.9"/>
<rect x="349.55" y="317.5" width="10.45" height="2.50" fill="#ee7b7a"/>
<line x1="354.78" y1="315" x2="354.78" y2="319.5" stroke="#333" stroke-width="0.9"/>
<line x1="352.88" y1="315" x2="356.68" y2="315" stroke="#333" stroke-width="0.9"/>
<line x1="352.88" y1="319.5" x2="356.68" y2="319.5" stroke="#333" stroke-width="0.9"/>
<line x1="339.1" y1="320.0" x2="339.1" y2="322.3" stroke="#808080" stroke-width="1.1"/>
<text transform="translate(340.40,326.6) rotate(-45)" font-size="6.0" text-anchor="end" fill="#222">5'UTR</text>
<line x1="321.2" y1="296.7" x2="354.77" y2="296.7" stroke="#555" stroke-width="0.7"/>
<text x="321.40" y="295.20" font-size="5.6" fill="#222"><tspan font-style="italic">P</tspan> = 0.4632<tspan font-size="5.0" dy="-0.9"></tspan></text>
<line x1="321.2" y1="303.6" x2="344.32" y2="303.6" stroke="#555" stroke-width="0.7"/>
<text x="321.40" y="302.10" font-size="5.6" fill="#222"><tspan font-style="italic">P</tspan> = 0.2887<tspan font-size="5.0" dy="-0.9"></tspan></text>
<line x1="321.2" y1="310.6" x2="333.88" y2="310.6" stroke="#555" stroke-width="0.7"/>
<text x="321.40" y="309.10" font-size="5.6" fill="#222"><tspan font-style="italic">P</tspan> = 0.7403<tspan font-size="5.0" dy="-0.9"></tspan></text>
<rect x="268.2" y="224.00" width="9.5" height="2.6" fill="#eda070"/>
<text x="282.3" y="227.5" font-size="6.2" text-anchor="start" fill="#222" >Control</text>
<rect x="268.2" y="230.40" width="9.5" height="2.6" fill="#9fcf8a"/>
<text x="282.3" y="233.9" font-size="6.2" text-anchor="start" fill="#222" >BE3</text>
<rect x="268.2" y="236.80" width="9.5" height="2.6" fill="#8fb0dc"/>
<text x="282.3" y="240.3" font-size="6.2" text-anchor="start" fill="#222" >HF1-BE3</text>
<rect x="268.2" y="243.20" width="9.5" height="2.6" fill="#ee7b7a"/>
<text x="282.3" y="246.7" font-size="6.2" text-anchor="start" fill="#222" >ABE</text>
<text x="369.0" y="200.6" font-size="10.4" text-anchor="start" fill="#222" >D</text>
<text x="473.2" y="209.4" font-size="6.9" text-anchor="middle" fill="#222" >C&gt;T SNVs</text>
<line x1="420.0" y1="219.3" x2="527.0" y2="219.3" stroke="#777" stroke-width="0.9"/>
<text x="420.4" y="218.30" font-size="5.4" fill="#222"><tspan font-style="italic">P</tspan> = 0.7811<tspan font-size="5.0" dy="-0.9"></tspan></text>
<line x1="420.0" y1="227.8" x2="493.0" y2="227.8" stroke="#777" stroke-width="0.9"/>
<text x="420.4" y="226.80" font-size="5.4" fill="#222"><tspan font-style="italic">P</tspan> &lt; 0.0001<tspan font-size="5.0" dy="-0.9">****</tspan></text>
<line x1="420.0" y1="235.3" x2="457.4" y2="235.3" stroke="#777" stroke-width="0.9"/>
<text x="420.4" y="234.30" font-size="5.4" fill="#222"><tspan font-style="italic">P</tspan> = 0.0041<tspan font-size="5.0" dy="-0.9">**</tspan></text>
<line x1="404.5" y1="224.6" x2="404.5" y2="321.0" stroke="#808080" stroke-width="1.15"/>
<line x1="404.5" y1="320.7" x2="546.0" y2="320.7" stroke="#808080" stroke-width="1.15"/>
<line x1="401.5" y1="225.0" x2="404.5" y2="225.0" stroke="#808080" stroke-width="1.15"/>
<text x="399.0" y="227.6" font-size="6.6" text-anchor="end" fill="#222" >0.25</text>
<line x1="401.5" y1="244.14" x2="404.5" y2="244.14" stroke="#808080" stroke-width="1.15"/>
<text x="399.0" y="246.74" font-size="6.6" text-anchor="end" fill="#222" >0.20</text>
<line x1="401.5" y1="263.28" x2="404.5" y2="263.28" stroke="#808080" stroke-width="1.15"/>
<text x="399.0" y="265.88" font-size="6.6" text-anchor="end" fill="#222" >0.15</text>
<line x1="401.5" y1="282.42" x2="404.5" y2="282.42" stroke="#808080" stroke-width="1.15"/>
<text x="399.0" y="285.02" font-size="6.6" text-anchor="end" fill="#222" >0.10</text>
<line x1="401.5" y1="301.56" x2="404.5" y2="301.56" stroke="#808080" stroke-width="1.15"/>
<text x="399.0" y="304.16" font-size="6.6" text-anchor="end" fill="#222" >0.05</text>
<line x1="401.5" y1="320.7" x2="404.5" y2="320.7" stroke="#808080" stroke-width="1.15"/>
<text x="399.0" y="323.3" font-size="6.6" text-anchor="end" fill="#222" >0.00</text>
<text transform="translate(376.0,275.9) rotate(-90)" font-size="6.7" text-anchor="middle" fill="#222">C&gt;T SNVs in highly transcript regions</text>
<text transform="translate(384.2,275.6) rotate(-90)" font-size="6.7" text-anchor="middle" fill="#222">versus in the whole genome</text>
<line x1="422.0" y1="320.7" x2="422.0" y2="323.5" stroke="#808080" stroke-width="1.1"/>
<text transform="translate(423.5,328.8) rotate(-45)" font-size="6.7" text-anchor="end" fill="#222">Control</text>
<line x1="457.6" y1="320.7" x2="457.6" y2="323.5" stroke="#808080" stroke-width="1.1"/>
<text transform="translate(459.1,328.8) rotate(-45)" font-size="6.7" text-anchor="end" fill="#222">BE3</text>
<line x1="493.0" y1="320.7" x2="493.0" y2="323.5" stroke="#808080" stroke-width="1.1"/>
<text transform="translate(494.5,328.8) rotate(-45)" font-size="6.7" text-anchor="end" fill="#222">HF1-BE3</text>
<line x1="528.4" y1="320.7" x2="528.4" y2="323.5" stroke="#808080" stroke-width="1.1"/>
<text transform="translate(529.9,328.8) rotate(-45)" font-size="6.7" text-anchor="end" fill="#222">ABE</text>
<circle cx="421.8" cy="260" r="1.75" fill="#e2874c"/>
<circle cx="423.9" cy="277.4" r="1.75" fill="#e2874c"/>
<circle cx="420.1" cy="279.2" r="1.75" fill="#e2874c"/>
<circle cx="417.3" cy="284" r="1.75" fill="#e2874c"/>
<circle cx="426.4" cy="283" r="1.75" fill="#e2874c"/>
<circle cx="421.8" cy="286.5" r="1.75" fill="#e2874c"/>
<circle cx="424.2" cy="295.1" r="1.75" fill="#e2874c"/>
<circle cx="419.6" cy="297.2" r="1.75" fill="#e2874c"/>
<circle cx="421.8" cy="281.5" r="1.75" fill="#e2874c"/>
<line x1="421.8" y1="269.7" x2="421.8" y2="292.9" stroke="#333" stroke-width="0.9"/>
<line x1="419.6" y1="269.7" x2="424.0" y2="269.7" stroke="#333" stroke-width="0.9"/>
<line x1="419.6" y1="292.9" x2="424.0" y2="292.9" stroke="#333" stroke-width="0.9"/>
<line x1="410.1" y1="281.4" x2="433.8" y2="281.4" stroke="#333" stroke-width="0.9"/>
<circle cx="464" cy="246.3" r="1.75" fill="#8dc27a"/>
<circle cx="449.1" cy="249.4" r="1.75" fill="#8dc27a"/>
<circle cx="453.3" cy="249.4" r="1.75" fill="#8dc27a"/>
<circle cx="459.6" cy="249.4" r="1.75" fill="#8dc27a"/>
<circle cx="455.3" cy="252.5" r="1.75" fill="#8dc27a"/>
<circle cx="460" cy="255.7" r="1.75" fill="#8dc27a"/>
<circle cx="453.3" cy="263.2" r="1.75" fill="#8dc27a"/>
<circle cx="461.6" cy="263.5" r="1.75" fill="#8dc27a"/>
<circle cx="451.4" cy="268.2" r="1.75" fill="#8dc27a"/>
<circle cx="455.3" cy="269" r="1.75" fill="#8dc27a"/>
<circle cx="459.6" cy="269.8" r="1.75" fill="#8dc27a"/>
<circle cx="464" cy="269" r="1.75" fill="#8dc27a"/>
<circle cx="447.5" cy="273" r="1.75" fill="#8dc27a"/>
<circle cx="451.4" cy="274.5" r="1.75" fill="#8dc27a"/>
<circle cx="459.6" cy="275.3" r="1.75" fill="#8dc27a"/>
<circle cx="464" cy="273.7" r="1.75" fill="#8dc27a"/>
<circle cx="467.4" cy="273" r="1.75" fill="#8dc27a"/>
<circle cx="455.3" cy="276.9" r="1.75" fill="#8dc27a"/>
<circle cx="455.3" cy="281.6" r="1.75" fill="#8dc27a"/>
<circle cx="459.6" cy="282" r="1.75" fill="#8dc27a"/>
<circle cx="457.2" cy="287.8" r="1.75" fill="#8dc27a"/>
<line x1="457.2" y1="255.2" x2="457.2" y2="278.4" stroke="#333" stroke-width="0.9"/>
<line x1="455.0" y1="255.2" x2="459.4" y2="255.2" stroke="#333" stroke-width="0.9"/>
<line x1="455.0" y1="278.4" x2="459.4" y2="278.4" stroke="#333" stroke-width="0.9"/>
<line x1="445.9" y1="266.7" x2="469.5" y2="266.7" stroke="#333" stroke-width="0.9"/>
<circle cx="490.7" cy="243.8" r="1.75" fill="#7b9bd0"/>
<circle cx="497.3" cy="247" r="1.75" fill="#7b9bd0"/>
<circle cx="495.4" cy="249.1" r="1.75" fill="#7b9bd0"/>
<circle cx="490.7" cy="252.3" r="1.75" fill="#7b9bd0"/>
<circle cx="484.5" cy="256.5" r="1.75" fill="#7b9bd0"/>
<circle cx="488.6" cy="258.3" r="1.75" fill="#7b9bd0"/>
<circle cx="492.8" cy="258.6" r="1.75" fill="#7b9bd0"/>
<circle cx="497.3" cy="257.2" r="1.75" fill="#7b9bd0"/>
<circle cx="501.8" cy="256.5" r="1.75" fill="#7b9bd0"/>
<circle cx="494.9" cy="268.6" r="1.75" fill="#7b9bd0"/>
<circle cx="490.7" cy="271.8" r="1.75" fill="#7b9bd0"/>
<line x1="492.8" y1="248.2" x2="492.8" y2="264.2" stroke="#333" stroke-width="0.9"/>
<line x1="490.6" y1="248.2" x2="495.0" y2="248.2" stroke="#333" stroke-width="0.9"/>
<line x1="490.6" y1="264.2" x2="495.0" y2="264.2" stroke="#333" stroke-width="0.9"/>
<line x1="481.7" y1="256.5" x2="504.9" y2="256.5" stroke="#333" stroke-width="0.9"/>
<circle cx="526.5" cy="255.3" r="1.75" fill="#e2646a"/>
<circle cx="532.9" cy="255.3" r="1.75" fill="#e2646a"/>
<circle cx="530.6" cy="259.2" r="1.75" fill="#e2646a"/>
<circle cx="526.5" cy="262.8" r="1.75" fill="#e2646a"/>
<circle cx="532.9" cy="264.7" r="1.75" fill="#e2646a"/>
<circle cx="524.4" cy="267.2" r="1.75" fill="#e2646a"/>
<circle cx="528.5" cy="267.7" r="1.75" fill="#e2646a"/>
<circle cx="521.7" cy="270.4" r="1.75" fill="#e2646a"/>
<circle cx="526.5" cy="272.1" r="1.75" fill="#e2646a"/>
<circle cx="530.6" cy="271.3" r="1.75" fill="#e2646a"/>
<circle cx="535" cy="270.4" r="1.75" fill="#e2646a"/>
<circle cx="526.5" cy="281.9" r="1.75" fill="#e2646a"/>
<circle cx="530.6" cy="283.6" r="1.75" fill="#e2646a"/>
<circle cx="522.3" cy="288.6" r="1.75" fill="#e2646a"/>
<circle cx="535" cy="288.6" r="1.75" fill="#e2646a"/>
<circle cx="526.5" cy="292" r="1.75" fill="#e2646a"/>
<circle cx="530.6" cy="291.1" r="1.75" fill="#e2646a"/>
<circle cx="520" cy="294.3" r="1.75" fill="#e2646a"/>
<circle cx="524.4" cy="296.4" r="1.75" fill="#e2646a"/>
<circle cx="532.9" cy="295.2" r="1.75" fill="#e2646a"/>
<circle cx="537.1" cy="293.4" r="1.75" fill="#e2646a"/>
<circle cx="528.5" cy="297.5" r="1.75" fill="#e2646a"/>
<circle cx="528.5" cy="306.7" r="1.75" fill="#e2646a"/>
<line x1="528.5" y1="264.2" x2="528.5" y2="294.6" stroke="#333" stroke-width="0.9"/>
<line x1="526.3" y1="264.2" x2="530.7" y2="264.2" stroke="#333" stroke-width="0.9"/>
<line x1="526.3" y1="294.6" x2="530.7" y2="294.6" stroke="#333" stroke-width="0.9"/>
<line x1="517.0" y1="279.2" x2="540.3" y2="279.2" stroke="#333" stroke-width="0.9"/>
</svg></body></html>
